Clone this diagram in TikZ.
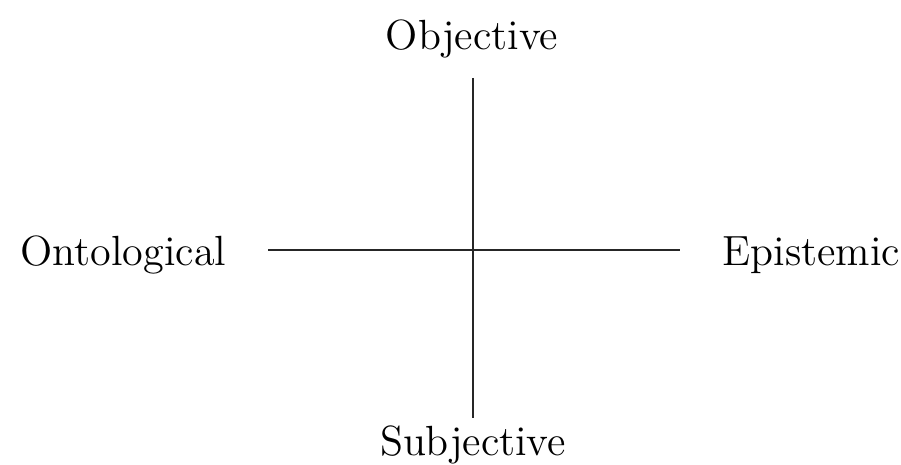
\documentclass[tikz,border=0pt]{standalone}
\usetikzlibrary{positioning}
\tikzset{
  pole/.style={font=\fontsize{12}{14}\selectfont,inner sep=0pt,anchor=base},
  axis/.style={line width=0.6pt,black!85}
}
\begin{document}
\begin{tikzpicture}[x=0.01cm,y=-0.01cm]
  \useasboundingbox (0,0) rectangle (901,464);
  \coordinate (origin) at (473,250);
  \node[pole] (objective) at (472,50) {Objective};
  \node[pole] (subjective) at (473,455) {Subjective};
  \node[pole,anchor=base east] (ontological) at (227,265) {Ontological};
  \node[pole,anchor=base west] (epistemic) at (722,265) {Epistemic};

  \coordinate (top) at (473,78);
  \coordinate (bottom) at (473,418);
  \coordinate (left) at (268,250);
  \coordinate (right) at (680,250);

  \draw[axis] (top) -- (bottom);
  \draw[axis] (left) -- (right);
\end{tikzpicture}
\end{document}
